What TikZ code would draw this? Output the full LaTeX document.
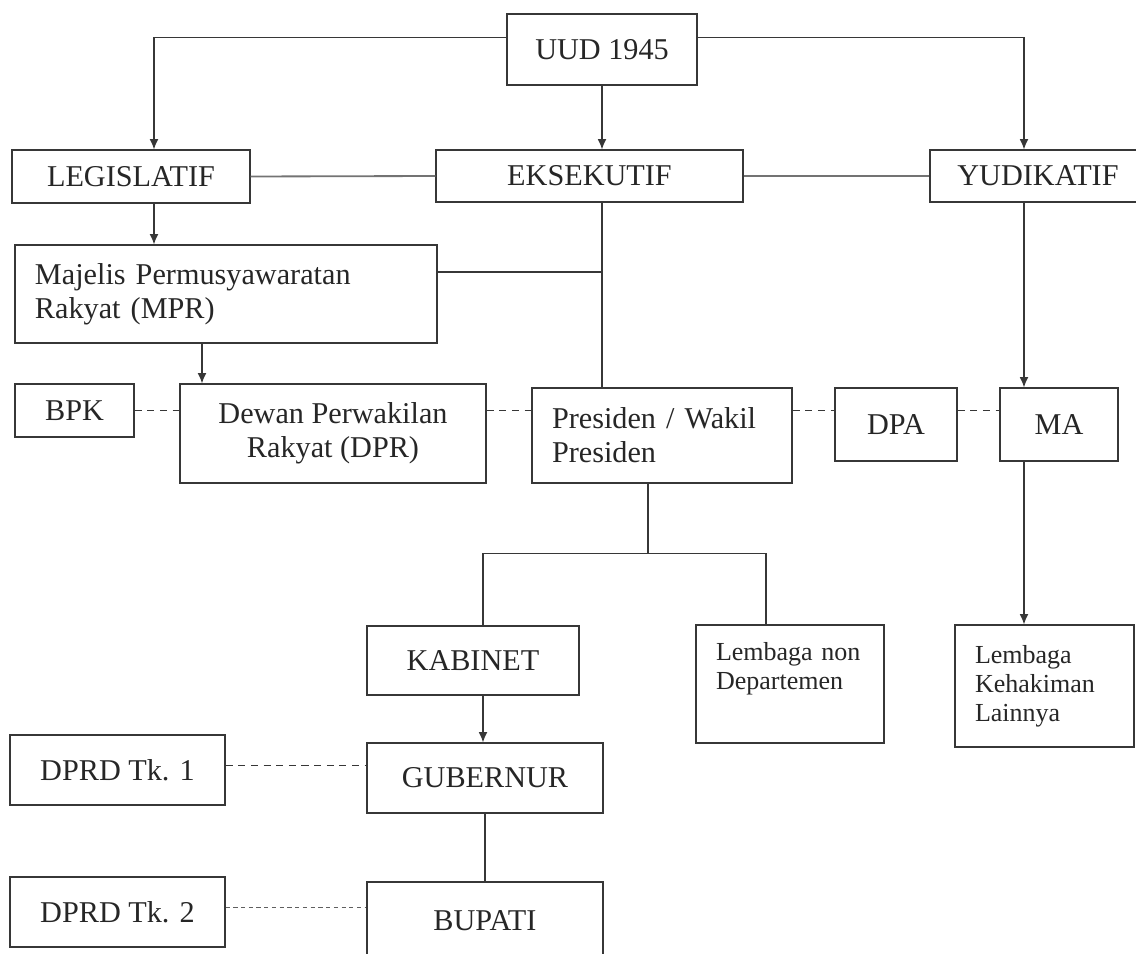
\documentclass[tikz,border=0pt]{standalone}
\usepackage{fontspec}
\setmainfont{Liberation Serif}
\usepackage{tikz}
\usetikzlibrary{arrows.meta, positioning, calc}
\definecolor{lineGray}{RGB}{55,55,55}
\definecolor{joinGray}{RGB}{115,115,115}
\tikzstyle{organ} = [rectangle, draw=lineGray, line width=0.8pt, inner sep=0pt,
                     text=black!85, font=\fontsize{21.5}{24}\selectfont, align=center]
\tikzstyle{arrow} = [-{Latex[length=2.6mm,width=2.2mm]}, lineGray, line width=0.8pt]

\begin{document}
\begin{tikzpicture}[
  note box/.style={organ, align=left, inner xsep=0.5cm},
  small note/.style={note box, font=\fontsize{18.5}{20.5}\selectfont},
  link/.style={lineGray, line width=0.8pt},
  peer/.style={joinGray, line width=1.3pt},
  coord/.style={lineGray, line width=0.8pt, dashed, dash pattern=on 5pt off 4pt},
  coord fine/.style={lineGray!80, line width=0.8pt, dash pattern=on 3pt off 2.5pt}
]
  \useasboundingbox (0,0) rectangle (28.4,-23.85);

  % Top level
  \node[organ, minimum width=4.75cm, minimum height=1.775cm] (uud) at (15.05,-1.2375) {UUD 1945};
  \node[organ, minimum width=5.95cm, minimum height=1.325cm] (leg) at (3.275,-4.4125) {LEGISLATIF};
  \node[organ, minimum width=7.675cm, minimum height=1.3cm] (eks) at (14.7375,-4.4) {EKSEKUTIF};
  \node[organ, minimum width=5.4cm, minimum height=1.3cm] (yud) at (25.95,-4.4) {YUDIKATIF};

  % Lembaga negara
  \node[note box, text width=9.55cm, minimum width=10.55cm, minimum height=2.45cm] (mpr) at (5.65,-7.35)
    {Majelis Permusyawaratan\\Rakyat (MPR)};
  \node[organ, minimum width=2.975cm, minimum height=1.325cm] (bpk) at (1.8625,-10.2625) {BPK};
  \node[organ, minimum width=7.65cm, minimum height=2.475cm] (dpr) at (8.325,-10.8375)
    {Dewan Perwakilan\\Rakyat (DPR)};
  \node[note box, text width=5.5cm, minimum width=6.5cm, minimum height=2.375cm] (pres) at (16.55,-10.8875)
    {Presiden / Wakil\\Presiden};
  \node[organ, minimum width=3.05cm, minimum height=1.825cm] (dpa) at (22.4,-10.6125) {DPA};
  \node[organ, minimum width=2.95cm, minimum height=1.825cm] (ma) at (26.475,-10.6125) {MA};

  % Pemerintahan
  \node[organ, minimum width=5.3cm, minimum height=1.725cm] (kab) at (11.825,-16.5125) {KABINET};
  \node[small note, text width=3.7cm, minimum width=4.7cm, minimum height=2.95cm] (lnd) at (19.75,-17.1)
    {Lembaga non\\Departemen\par\vspace*{0.75cm}};
  \node[small note, text width=3.475cm, minimum width=4.475cm, minimum height=3.05cm] (lkl) at (26.1125,-17.15)
    {Lembaga\\Kehakiman\\Lainnya};
  \node[organ, minimum width=5.9cm, minimum height=1.75cm] (gub) at (12.125,-19.45) {GUBERNUR};
  \node[organ, minimum width=5.9cm, minimum height=1.95cm] (bup) at (12.125,-23.025) {BUPATI};
  \node[organ, minimum width=5.375cm, minimum height=1.75cm] (dprd1) at (2.9375,-19.25) {DPRD Tk. 1};
  \node[organ, minimum width=5.375cm, minimum height=1.75cm] (dprd2) at (2.9375,-22.8) {DPRD Tk. 2};

  % Relationships
  \draw[arrow] ([yshift=0.31cm]uud.west) -| ([xshift=0.575cm]leg.north);
  \draw[arrow] ([yshift=0.31cm]uud.east) -| ([xshift=-0.35cm]yud.north);
  \draw[arrow] (uud.south) -- (uud.south |- eks.north);
  \draw[peer] (leg.east) -- (eks.west);
  \draw[peer] (eks.east) -- (yud.west);

  \draw[arrow] ([xshift=0.575cm]leg.south) -- ([xshift=0.575cm]leg.south |- mpr.north);
  \draw[link] (uud.south |- eks.south) -- (uud.south |- pres.north);
  \draw[link] ([yshift=0.55cm]mpr.east) -- ([yshift=0.55cm]mpr.east -| uud.south);
  \draw[arrow] ([xshift=-0.6cm]mpr.south) -- ([xshift=-0.6cm]mpr.south |- dpr.north);
  \draw[arrow] ([xshift=-0.35cm]yud.south) -- ([xshift=-0.35cm]yud.south |- ma.north);
  \draw[arrow] ([xshift=-0.35cm]yud.south |- ma.south) -- ([xshift=-0.35cm]yud.south |- lkl.north);

  \draw[coord] (bpk.east) -- (bpk.east -| dpr.west);
  \draw[coord] (dpr.east |- bpk.east) -- (bpk.east -| pres.west);
  \draw[coord] (pres.east |- bpk.east) -- (bpk.east -| dpa.west);
  \draw[coord] (dpa.east |- bpk.east) -- (bpk.east -| ma.west);

  \coordinate (split) at ($([xshift=-0.35cm]pres.south)+(0,-1.75)$);
  \draw[link] ([xshift=-0.35cm]pres.south) -- (split);
  \draw[link] (split) -| ([xshift=0.25cm]kab.north);
  \draw[link] (split) -| ([xshift=-0.6cm]lnd.north);

  \draw[arrow] ([xshift=0.25cm]kab.south) -- ([xshift=0.25cm]kab.south |- gub.north);
  \draw[link] (gub.south) -- (bup.north);
  \draw[coord] ([yshift=0.12cm]dprd1.east) -- ([yshift=0.12cm]dprd1.east -| gub.west);
  \draw[coord fine] ([yshift=0.12cm]dprd2.east) -- ([yshift=0.12cm]dprd2.east -| bup.west);

\end{tikzpicture}
\end{document}
